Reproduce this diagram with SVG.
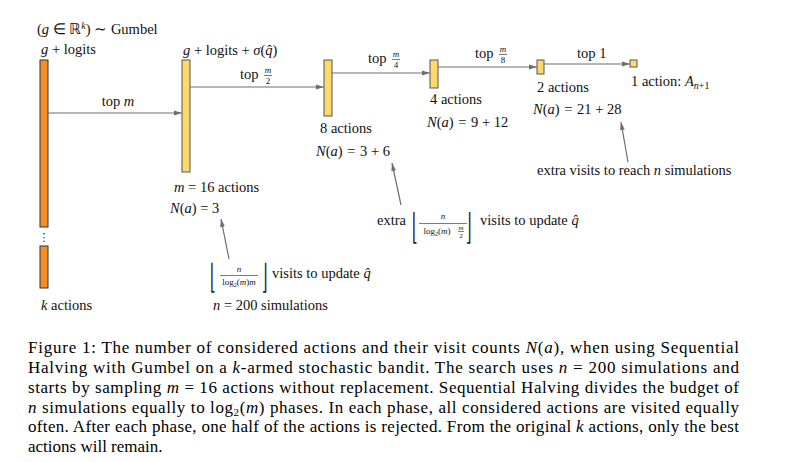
<svg xmlns="http://www.w3.org/2000/svg" width="796" height="462" viewBox="0 0 796 462">
<style>
text{font-family:'Liberation Serif','Times New Roman',serif;font-size:14.5px;fill:#111}
.i{font-style:italic}
.s{font-size:9px}
.t{font-size:7px}
.m{text-anchor:middle}
.cap{font-size:17px;fill:#000}
.br{font-family:'DejaVu Serif',serif;font-size:14px;fill:#222}
.or{fill:#F18F26;stroke:#333;stroke-width:1}
.ye{fill:#FDD96A;stroke:#555;stroke-width:1}
.arr{stroke:#6e6e6e;stroke-width:1.2;fill:none;marker-end:url(#ah)}
.fb{stroke:#222;stroke-width:0.6}
</style>
<defs>
<marker id="ah" viewBox="0 0 8 6" refX="8" refY="3" markerWidth="8" markerHeight="6" markerUnits="userSpaceOnUse" orient="auto">
<path d="M0,0.6 L8,3 L0,5.4 z" fill="#6e6e6e"/>
</marker>
</defs>
<rect width="796" height="462" fill="#fff"/>

<g id="node-k">
<rect class="or" x="40" y="60" width="8" height="167"/>
<rect class="or" x="40" y="246" width="8" height="42"/>
<text class="m" x="44" y="241" style="font-family:'DejaVu Sans',sans-serif;font-size:11px">⋮</text>
<text x="37" y="34">(<tspan class="i">g</tspan> ∈ ℝ<tspan class="i" dy="-5" style="font-size:10px">k</tspan><tspan dy="5">) ∼ Gumbel</tspan></text>
<text x="41" y="54"><tspan class="i">g</tspan> + logits</text>
<text x="41" y="310"><tspan class="i">k</tspan> actions</text>
</g>

<g id="node-16">
<rect class="ye" x="182" y="60" width="8" height="112"/>
<text x="183" y="55"><tspan class="i">g</tspan> + logits + <tspan class="i">σ</tspan>(<tspan class="i">q̂</tspan>)</text>
<text x="174" y="192"><tspan class="i">m</tspan> = 16 actions</text>
<text x="170" y="213"><tspan class="i">N</tspan>(<tspan class="i">a</tspan>) = 3</text>
</g>

<g id="node-8">
<rect class="ye" x="324" y="60" width="8" height="56"/>
<text x="320" y="133">8 actions</text>
<text x="316" y="156"><tspan class="i">N</tspan>(<tspan class="i">a</tspan>) <tspan dx="1">=</tspan> <tspan dx="1">3</tspan> + 6</text>
</g>

<g id="node-4">
<rect class="ye" x="430" y="60" width="8" height="28"/>
<text x="430" y="104">4 actions</text>
<text x="427" y="127"><tspan class="i">N</tspan>(<tspan class="i">a</tspan>) <tspan dx="1">=</tspan> <tspan dx="1">9</tspan> + 12</text>
</g>

<g id="node-2">
<rect class="ye" x="537" y="60" width="7" height="14"/>
<text x="537" y="92">2 actions</text>
<text x="533" y="114"><tspan class="i">N</tspan>(<tspan class="i">a</tspan>) <tspan dx="1">=</tspan> <tspan dx="1">21</tspan> + 28</text>
</g>

<g id="node-1">
<rect class="ye" x="630" y="60" width="7" height="7"/>
<text x="631" y="86">1 action: <tspan class="i">A</tspan><tspan dy="3" style="font-size:10px"><tspan class="i">n</tspan>+1</tspan></text>
</g>

<g id="connectors">
<line class="arr" x1="48" y1="113" x2="182" y2="113"/>
<line class="arr" x1="190" y1="87" x2="324" y2="87"/>
<line class="arr" x1="332" y1="73" x2="430" y2="73"/>
<line class="arr" x1="438" y1="67" x2="537" y2="67"/>
<line class="arr" x1="544" y1="64" x2="630" y2="64"/>
<line class="arr" x1="229" y1="259" x2="221" y2="219"/>
<line class="arr" x1="401" y1="205" x2="392" y2="163"/>
<line class="arr" x1="628" y1="162" x2="621" y2="122"/>
<text class="m" x="118" y="106">top <tspan class="i">m</tspan></text>
<text x="240" y="79">top</text>
<text class="s i m" x="268" y="73">m</text><line class="fb" x1="264" y1="75.5" x2="272" y2="75.5"/><text class="s m" x="268" y="84">2</text>
<text x="368" y="63">top</text>
<text class="s i m" x="396" y="57">m</text><line class="fb" x1="392" y1="59.5" x2="400" y2="59.5"/><text class="s m" x="396" y="68">4</text>
<text x="475" y="58">top</text>
<text class="s i m" x="503" y="52">m</text><line class="fb" x1="499" y1="54.5" x2="507" y2="54.5"/><text class="s m" x="503" y="63">8</text>
<text x="577" y="58">top 1</text>
</g>

<g id="note-update">
<text class="br" transform="translate(210,288) scale(1,2.4)">⌊</text>
<text class="s i m" x="239" y="272">n</text>
<line class="fb" x1="220" y1="275.5" x2="258" y2="275.5"/>
<text class="s m" x="239" y="285">log<tspan dy="2" style="font-size:6px">2</tspan><tspan dy="-2">(</tspan><tspan class="i">m</tspan>)<tspan class="i">m</tspan></text>
<text class="br" transform="translate(262,288) scale(1,2.4)">⌋</text>
<text x="272" y="278">visits to update <tspan class="i">q̂</tspan></text>
<text x="213" y="310"><tspan class="i">n</tspan> = 200 simulations</text>
</g>

<g id="note-extra">
<text x="377" y="225">extra</text>
<text class="br" transform="translate(412,239) scale(1,2.55)">⌊</text>
<text class="s i m" x="443" y="219">n</text>
<line class="fb" x1="419" y1="223.5" x2="467" y2="223.5"/>
<text class="s m" x="437" y="234">log<tspan dy="2" style="font-size:6px">2</tspan><tspan dy="-2">(</tspan><tspan class="i">m</tspan>)</text>
<text class="t i m" x="461" y="230">m</text><line class="fb" x1="458" y1="231.5" x2="464" y2="231.5"/><text class="t m" x="461" y="238">2</text>
<text class="br" transform="translate(466,239) scale(1,2.55)">⌋</text>
<text x="480" y="225">visits to update <tspan class="i">q̂</tspan></text>
</g>

<g id="note-reach">
<text x="537" y="175">extra visits to reach <tspan class="i">n</tspan> simulations</text>
</g>

<g id="caption">
<text class="cap" x="28" y="353" textLength="711" lengthAdjust="spacing">Figure 1: The number of considered actions and their visit counts <tspan class="i">N</tspan>(<tspan class="i">a</tspan>), when using Sequential</text>
<text class="cap" x="28" y="373" textLength="711" lengthAdjust="spacing">Halving with Gumbel on a <tspan class="i">k</tspan>-armed stochastic bandit. The search uses <tspan class="i">n</tspan> = 200 simulations and</text>
<text class="cap" x="28" y="393" textLength="711" lengthAdjust="spacing">starts by sampling <tspan class="i">m</tspan> = 16 actions without replacement. Sequential Halving divides the budget of</text>
<text class="cap" x="28" y="412.5" textLength="711" lengthAdjust="spacing"><tspan class="i">n</tspan> simulations equally to log<tspan dy="3" style="font-size:11px">2</tspan><tspan dy="-3">(</tspan><tspan class="i">m</tspan>) phases. In each phase, all considered actions are visited equally</text>
<text class="cap" x="28" y="432" textLength="711" lengthAdjust="spacing">often. After each phase, one half of the actions is rejected. From the original <tspan class="i">k</tspan> actions, only the best</text>
<text class="cap" x="28" y="451.5">actions will remain.</text>
</g>
</svg>
